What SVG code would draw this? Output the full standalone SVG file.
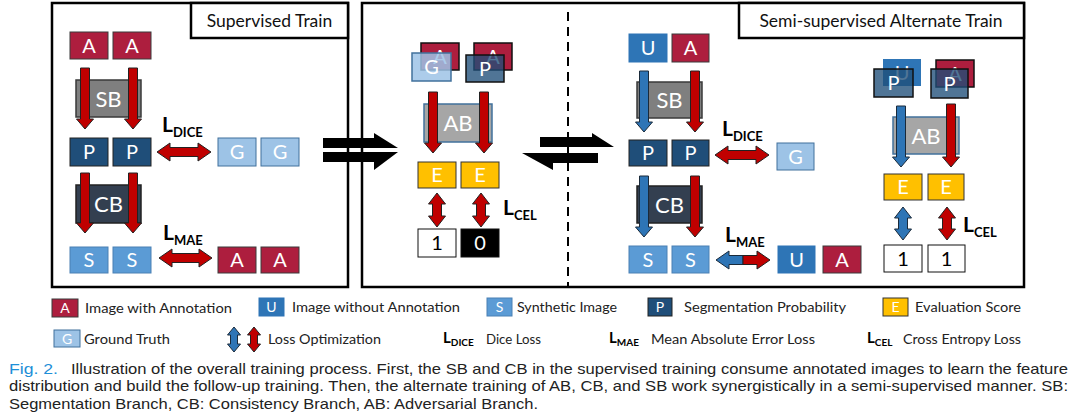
<svg xmlns="http://www.w3.org/2000/svg" width="1080" height="419" viewBox="0 0 1080 419">
<style>
.panel{fill:none;stroke:#000;stroke-width:2.5}
.lbox{fill:#fff;stroke:#000;stroke-width:2.5}
.ttl{font-family:Lato,"Open Sans",sans-serif;font-size:17.5px;fill:#111;text-anchor:middle}
.nt{font-family:Lato,"Open Sans",sans-serif;font-size:20px;fill:#fff;text-anchor:middle}
.bt{font-family:Lato,"Open Sans",sans-serif;font-size:22px;fill:#fff;text-anchor:middle}
.A{fill:#AD1E3E;stroke:#3a3a3a;stroke-width:1}
.U{fill:#2E75B6;stroke:#2E75B6;stroke-width:1}
.S{fill:#5B9BD5;stroke:#4A80B4;stroke-width:1}
.P{fill:#1F4E79;stroke:#222;stroke-width:1}
.G{fill:#9DC3E6;stroke:#41719C;stroke-width:1}
.E{fill:#FFC000;stroke:#333;stroke-width:1}
.SB{fill:#7F7F7F;stroke:#3a3a3a;stroke-width:1.5}
.CB{fill:#333F50;stroke:#222;stroke-width:1.5}
.AB{fill:#A6A6A6;stroke:#41719C;stroke-width:1.5}
.Pf{fill:#1F4E79;fill-opacity:0.78;stroke:#111;stroke-width:1.5}
.Gf{fill:#9DC3E6;fill-opacity:0.85;stroke:#41719C;stroke-width:1.5}
.Ab{fill:#AD1E3E;stroke:#111;stroke-width:1.5}
.Ub{fill:#2E75B6;stroke:none}
.one{fill:#fff;stroke:#111;stroke-width:1}
.zero{fill:#000;stroke:#111;stroke-width:1}
.dk{fill:#000}
.ra{fill:#C00000;stroke:#222;stroke-width:1}
.ba{fill:#2E75B6;stroke:#1a2a3a;stroke-width:1}
.blk{fill:#000}
.L{font-family:Lato,"Open Sans",sans-serif;font-weight:bold;font-size:21px;fill:#000}
.Ls{font-size:13px}
.lL{font-family:Lato,"Open Sans",sans-serif;font-weight:bold;font-size:15px;fill:#000}
.lLs{font-size:10px}
.lg{font-family:Lato,"Open Sans",sans-serif;font-size:14px;fill:#222}
.lt{font-family:Lato,"Open Sans",sans-serif;font-size:14px;fill:#fff;text-anchor:middle}
.cap{font-family:"Liberation Sans",Arial,sans-serif;font-size:15px;fill:#222}
.fig{fill:#1E8FD8}
</style>

<!-- Panels -->
<g id="panel-supervised">
<rect class="panel" x="52" y="3" width="296" height="284"/>
<rect class="lbox" x="191" y="3" width="157" height="35"/>
<text class="ttl" x="269.5" y="27">Supervised Train</text>
</g>
<g id="panel-semi">
<rect class="panel" x="362" y="3" width="662" height="284"/>
<line x1="568" y1="12" x2="568" y2="287" stroke="#000" stroke-width="2" stroke-dasharray="9,6"/>
<rect class="lbox" x="739" y="3" width="285" height="35"/>
<text class="ttl" x="881" y="27">Semi-supervised Alternate Train</text>
</g>

<!-- Supervised Train nodes -->
<g id="s-A1"><rect class="A" x="70" y="32" width="38" height="27"/><text class="nt" x="89" y="52.5">A</text></g>
<g id="s-A2"><rect class="A" x="113" y="32" width="38" height="27"/><text class="nt" x="132" y="52.5">A</text></g>
<g id="s-SB"><rect class="SB" x="76" y="80" width="65" height="37"/><text class="bt" x="108.5" y="106.5">SB</text></g>
<g id="s-P1"><rect class="P" x="70" y="138" width="38" height="28"/><text class="nt" x="89" y="159">P</text></g>
<g id="s-P2"><rect class="P" x="113" y="138" width="38" height="28"/><text class="nt" x="132" y="159">P</text></g>
<g id="s-G1"><rect class="G" x="218" y="138" width="38" height="28"/><text class="nt" x="237" y="159">G</text></g>
<g id="s-G2"><rect class="G" x="261" y="138" width="38" height="28"/><text class="nt" x="280" y="159">G</text></g>
<g id="s-CB"><rect class="CB" x="76" y="185" width="65" height="38"/><text class="bt" x="108.5" y="212">CB</text></g>
<g id="s-S1"><rect class="S" x="70" y="247" width="38" height="26"/><text class="nt" x="89" y="267">S</text></g>
<g id="s-S2"><rect class="S" x="113" y="247" width="38" height="26"/><text class="nt" x="132" y="267">S</text></g>
<g id="s-A3"><rect class="A" x="218" y="247" width="38" height="26"/><text class="nt" x="237" y="267">A</text></g>
<g id="s-A4"><rect class="A" x="261" y="247" width="38" height="26"/><text class="nt" x="280" y="267">A</text></g>

<!-- Middle (adversarial) nodes -->
<g id="m-AG"><rect class="Ab" x="421" y="43" width="38" height="27"/><text class="nt" x="440" y="63.5">A</text>
<rect class="Gf" x="412" y="53" width="39" height="28"/><text class="nt" x="431.5" y="74">G</text></g>
<g id="m-AP"><rect class="Ab" x="474" y="43" width="38" height="27"/><text class="nt" x="493" y="63.5">A</text>
<rect class="Pf" x="466" y="55" width="38" height="27"/><text class="nt" x="485" y="75.5">P</text></g>
<g id="m-AB"><rect class="AB" x="424" y="104" width="68" height="38"/><text class="bt" x="458" y="131">AB</text></g>
<g id="m-E1"><rect class="E" x="418" y="162" width="38" height="26"/><text class="nt" x="437" y="182">E</text></g>
<g id="m-E2"><rect class="E" x="461" y="162" width="38" height="26"/><text class="nt" x="480" y="182">E</text></g>
<g id="m-one"><rect class="one" x="418" y="229" width="38" height="28"/><text class="nt dk" x="437" y="250">1</text></g>
<g id="m-zero"><rect class="zero" x="461" y="229" width="38" height="28"/><text class="nt" x="480" y="250">0</text></g>

<!-- Semi-supervised left part -->
<g id="r-U1"><rect class="U" x="629" y="34" width="38" height="28"/><text class="nt" x="648" y="55">U</text></g>
<g id="r-A1"><rect class="A" x="672" y="34" width="37" height="28"/><text class="nt" x="690.5" y="55">A</text></g>
<g id="r-SB"><rect class="SB" x="637" y="82" width="65" height="36"/><text class="bt" x="669.5" y="108">SB</text></g>
<g id="r-P1"><rect class="P" x="629" y="140" width="38" height="26"/><text class="nt" x="648" y="160">P</text></g>
<g id="r-P2"><rect class="P" x="672" y="140" width="37" height="26"/><text class="nt" x="690.5" y="160">P</text></g>
<g id="r-G"><rect class="G" x="777" y="143" width="37" height="27"/><text class="nt" x="795.5" y="163.5">G</text></g>
<g id="r-CB"><rect class="CB" x="637" y="186" width="65" height="37"/><text class="bt" x="669.5" y="212.5">CB</text></g>
<g id="r-S1"><rect class="S" x="629" y="246" width="38" height="27"/><text class="nt" x="648" y="266.5">S</text></g>
<g id="r-S2"><rect class="S" x="672" y="246" width="37" height="27"/><text class="nt" x="690.5" y="266.5">S</text></g>
<g id="r-U2"><rect class="U" x="778" y="246" width="37" height="27"/><text class="nt" x="796.5" y="266.5">U</text></g>
<g id="r-A2"><rect class="A" x="823" y="246" width="38" height="27"/><text class="nt" x="842" y="266.5">A</text></g>

<!-- Semi-supervised right part -->
<g id="q-UP"><rect class="Ub" x="883" y="59" width="38" height="27"/><text class="nt" x="902" y="79.5">U</text>
<rect class="Pf" x="874" y="69" width="39" height="28"/><text class="nt" x="893.5" y="90">P</text></g>
<g id="q-AP"><rect class="Ab" x="936" y="60" width="38" height="27"/><text class="nt" x="955" y="80.5">A</text>
<rect class="Pf" x="931" y="69" width="37" height="29"/><text class="nt" x="949.5" y="90.5">P</text></g>
<g id="q-AB"><rect class="AB" x="893" y="117" width="66" height="37"/><text class="bt" x="926" y="143.5">AB</text></g>
<g id="q-E1"><rect class="E" x="884" y="174" width="38" height="26"/><text class="nt" x="903" y="194">E</text></g>
<g id="q-E2"><rect class="E" x="928" y="174" width="36" height="26"/><text class="nt" x="946" y="194">E</text></g>
<g id="q-one1"><rect class="one" x="884" y="245" width="38" height="27"/><text class="nt dk" x="903" y="265.5">1</text></g>
<g id="q-one2"><rect class="one" x="928" y="245" width="37" height="27"/><text class="nt dk" x="946.5" y="265.5">1</text></g>

<!-- Connectors -->
<g id="connectors">
<path class="ra" d="M80.5 68 H89.5 V119 H93.5 L85 129 L76.5 119 H80.5 Z"/>
<path class="ra" d="M128.5 68 H137.5 V119 H141.5 L133 129 L124.5 119 H128.5 Z"/>
<path class="ra" d="M80.5 173 H89.5 V223 H93.5 L85 233 L76.5 223 H80.5 Z"/>
<path class="ra" d="M128.5 173 H137.5 V223 H141.5 L133 233 L124.5 223 H128.5 Z"/>
<path class="ra" d="M157 152 L170 143 V147.5 H198 V143 L211 152 L198 161 V156.5 H170 V161 Z"/>
<path class="ra" d="M159 258 L172 249 V253.5 H199 V249 L212 258 L199 267 V262.5 H172 V267 Z"/>

<path class="blk" d="M323 138 H374 V133 L398 148 H323 Z"/>
<path class="blk" d="M323 152 H398 L374 170 V162 H323 Z"/>
<path class="blk" d="M540 137 H592 V133 L614 147 H540 Z"/>
<path class="blk" d="M598 153 V163 H553 V170 L522 153 Z"/>

<path class="ra" d="M428.5 92 H437.5 V143 H441.5 L433 153 L424.5 143 H428.5 Z"/>
<path class="ra" d="M479.5 92 H488.5 V143 H492.5 L484 153 L475.5 143 H479.5 Z"/>
<path class="ra" d="M437 193 L445.5 204 H441.5 V216 H445.5 L437 227 L428.5 216 H432.5 V204 H428.5 Z"/>
<path class="ra" d="M481 193 L489.5 204 H485.5 V216 H489.5 L481 227 L472.5 216 H476.5 V204 H472.5 Z"/>

<path class="ba" d="M639.5 71 H648.5 V122 H652.5 L644 132 L635.5 122 H639.5 Z"/>
<path class="ra" d="M690.5 71 H699.5 V122 H703.5 L695 132 L686.5 122 H690.5 Z"/>
<path class="ba" d="M639.5 176 H648.5 V227 H652.5 L644 237 L635.5 227 H639.5 Z"/>
<path class="ra" d="M690.5 176 H699.5 V227 H703.5 L695 237 L686.5 227 H690.5 Z"/>
<path class="ra" d="M715 155 L728 146 V150.5 H756 V146 L769 155 L756 164 V159.5 H728 V164 Z"/>
<path class="ba" d="M716 260 L729 251 V255.5 H743 V264.5 H729 V269 Z"/>
<path class="ra" d="M743 255.5 H757 V251 L770 260 L757 269 V264.5 H743 Z"/>

<path class="ba" d="M896.5 106 H905.5 V157 H909.5 L901 167 L892.5 157 H896.5 Z"/>
<path class="ra" d="M946.5 104 H955.5 V157 H959.5 L951 167 L942.5 157 H946.5 Z"/>
<path class="ba" d="M903 207 L911.5 218 H907.5 V229 H911.5 L903 240 L894.5 229 H898.5 V218 H894.5 Z"/>
<path class="ra" d="M947 207 L955.5 218 H951.5 V229 H955.5 L947 240 L938.5 229 H942.5 V218 H938.5 Z"/>
</g>

<!-- Loss labels -->
<g id="loss-labels">
<text class="L" x="162" y="132">L<tspan class="Ls" dy="5">DICE</tspan></text>
<text class="L" x="163" y="240">L<tspan class="Ls" dy="5">MAE</tspan></text>
<text class="L" x="503" y="215">L<tspan class="Ls" dy="5">CEL</tspan></text>
<text class="L" x="722" y="136">L<tspan class="Ls" dy="5">DICE</tspan></text>
<text class="L" x="725" y="242">L<tspan class="Ls" dy="5">MAE</tspan></text>
<text class="L" x="963" y="232">L<tspan class="Ls" dy="5">CEL</tspan></text>
</g>

<!-- Legend -->
<g id="legend">
<rect class="A" x="52" y="299" width="26" height="18"/><text class="lt" x="65" y="313">A</text>
<text class="lg" x="85" y="313" textLength="147" lengthAdjust="spacingAndGlyphs">Image with Annotation</text>
<rect class="U" x="259" y="298" width="25" height="18"/><text class="lt" x="271.5" y="312">U</text>
<text class="lg" x="292" y="312" textLength="168" lengthAdjust="spacingAndGlyphs">Image without Annotation</text>
<rect class="S" x="487" y="298" width="25" height="18"/><text class="lt" x="499.5" y="312">S</text>
<text class="lg" x="517" y="312" textLength="100" lengthAdjust="spacingAndGlyphs">Synthetic Image</text>
<rect class="P" x="648" y="298" width="24" height="18"/><text class="lt" x="660" y="312">P</text>
<text class="lg" x="684" y="312" textLength="162" lengthAdjust="spacingAndGlyphs">Segmentation Probability</text>
<rect class="E" x="883" y="298" width="25" height="18"/><text class="lt" x="895.5" y="312">E</text>
<text class="lg" x="915" y="312" textLength="106" lengthAdjust="spacingAndGlyphs">Evaluation Score</text>

<rect class="G" x="54" y="330" width="26" height="17"/><text class="lt" x="67" y="343.5">G</text>
<text class="lg" x="84" y="344" textLength="86" lengthAdjust="spacingAndGlyphs">Ground Truth</text>
<path class="ba" d="M234 327 L240.5 335 H237.5 V344 H240.5 L234 352 L227.5 344 H230.5 V335 H227.5 Z"/>
<path class="ra" d="M254 327 L260.5 335 H257.5 V344 H260.5 L254 352 L247.5 344 H250.5 V335 H247.5 Z"/>
<text class="lg" x="268" y="344" textLength="113" lengthAdjust="spacingAndGlyphs">Loss Optimization</text>
<text class="lL" x="443" y="343">L<tspan class="lLs" dy="3">DICE</tspan></text>
<text class="lg" x="486" y="344" textLength="55" lengthAdjust="spacingAndGlyphs">Dice Loss</text>
<text class="lL" x="609" y="343">L<tspan class="lLs" dy="3">MAE</tspan></text>
<text class="lg" x="651" y="344" textLength="164" lengthAdjust="spacingAndGlyphs">Mean Absolute Error Loss</text>
<text class="lL" x="867" y="343">L<tspan class="lLs" dy="3">CEL</tspan></text>
<text class="lg" x="903" y="344" textLength="118" lengthAdjust="spacingAndGlyphs">Cross Entropy Loss</text>
</g>

<!-- Caption -->
<g id="caption">
<text class="cap fig" x="9" y="373.5" textLength="49" lengthAdjust="spacingAndGlyphs">Fig. 2.</text>
<text class="cap" x="71" y="373.5" textLength="997" lengthAdjust="spacingAndGlyphs">Illustration of the overall training process. First, the SB and CB in the supervised training consume annotated images to learn the feature</text>
<text class="cap" x="9" y="391" textLength="1059" lengthAdjust="spacingAndGlyphs">distribution and build the follow-up training. Then, the alternate training of AB, CB, and SB work synergistically in a semi-supervised manner. SB:</text>
<text class="cap" x="9" y="409" textLength="529" lengthAdjust="spacingAndGlyphs">Segmentation Branch, CB: Consistency Branch, AB: Adversarial Branch.</text>
</g>
</svg>
